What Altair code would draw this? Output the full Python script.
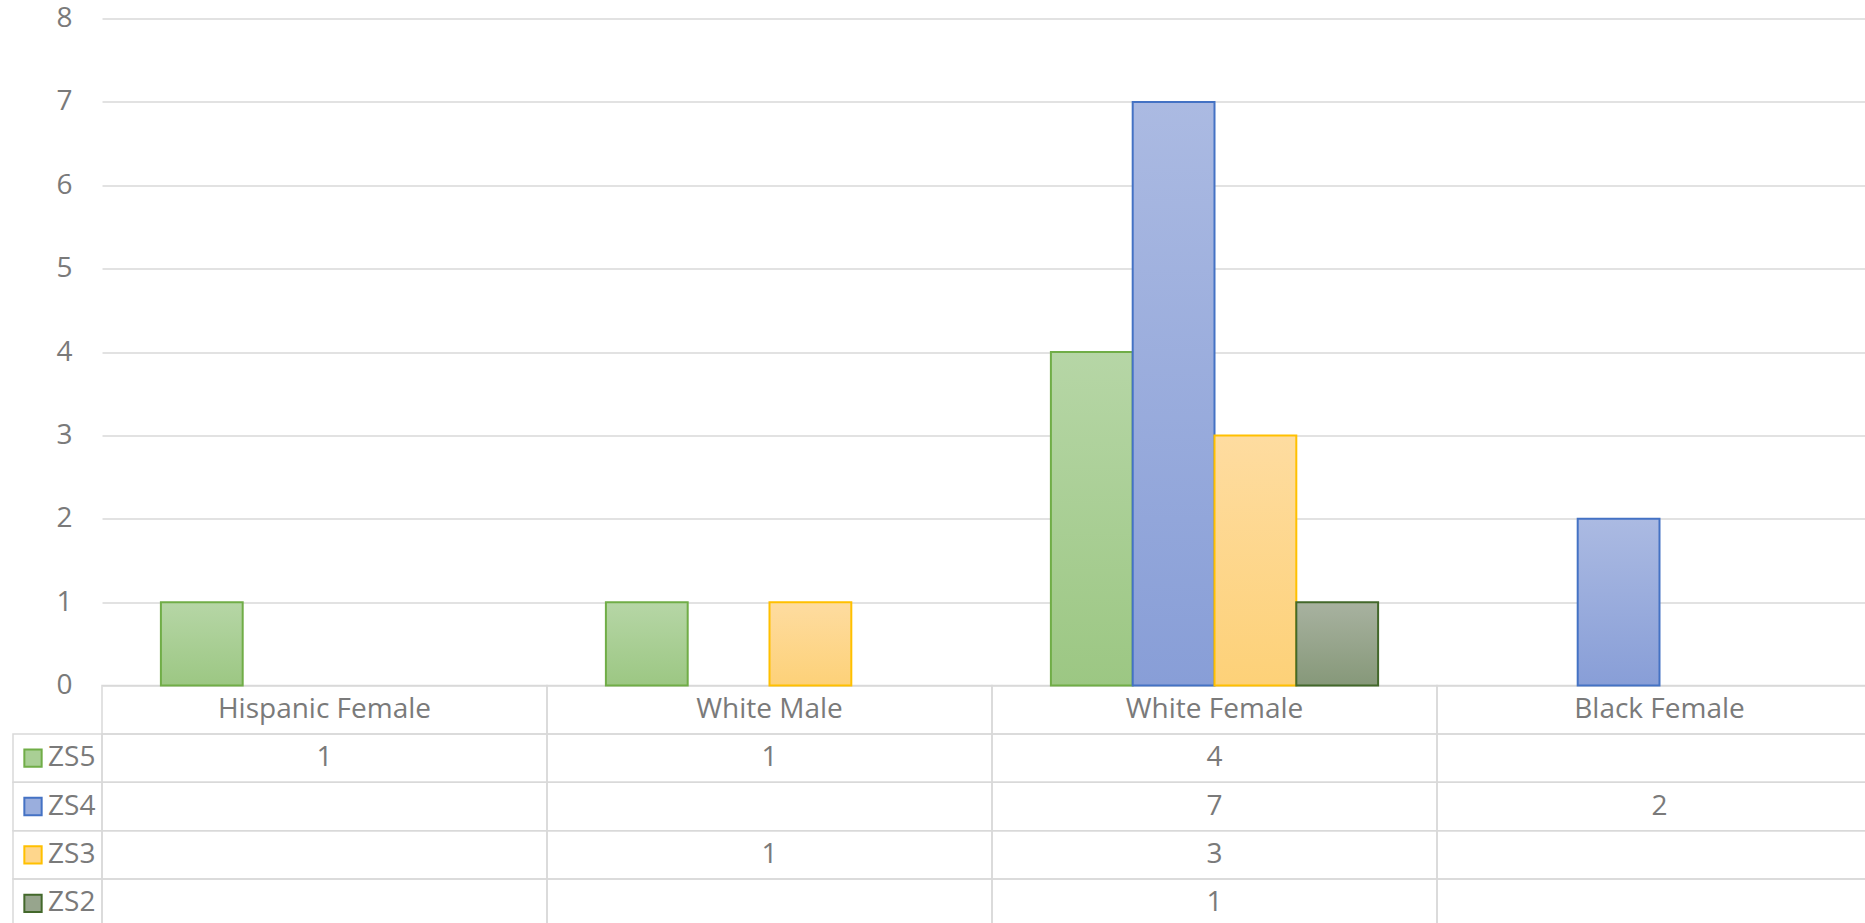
import altair as alt
import pandas as pd

# ---- data -------------------------------------------------------------
categories = ["Hispanic Female", "White Male", "White Female", "Black Female"]
series = ["ZS5", "ZS4", "ZS3", "ZS2"]
zs5 = [1, 1, 4, None]
zs4 = [None, None, 7, 2]
zs3 = [None, 1, 3, None]
zs2 = [None, None, 1, None]
y_ticks = [0, 1, 2, 3, 4, 5, 6, 7, 8]

values_by_series = {"ZS5": zs5, "ZS4": zs4, "ZS3": zs3, "ZS2": zs2}

# ---- styling ----------------------------------------------------------
FONT = "Open Sans"
FONT_SIZE = 28
TEXT_COLOR = "#7a7a7a"
LINE_COLOR = "#d9d9d9"

top_color = {"ZS5": "#b6d6a6", "ZS4": "#abbae2", "ZS3": "#fedca0", "ZS2": "#a8b2a0"}
bottom_color = {"ZS5": "#9cc783", "ZS4": "#889ed7", "ZS3": "#fdd178", "ZS2": "#869879"}
mid_color = {"ZS5": "#a9cf95", "ZS4": "#9aaedd", "ZS3": "#fed68c", "ZS2": "#97a58d"}
edge_color = {"ZS5": "#70ad47", "ZS4": "#4472c4", "ZS3": "#ffc000", "ZS2": "#43682b"}

PLOT_W = 1763          # visible plot width
BAND_SPAN = 1780       # four table columns (last one runs past the page edge)
PLOT_H = 667
ROW_H = 48.4

rows = ["header"] + series

# ---- tables built from the arrays ---------------------------------------
bars_df = pd.DataFrame(
    [
        {"category": c, "series": s, "row": s, "value": v}
        for s in series
        for c, v in zip(categories, values_by_series[s])
        if v is not None
    ]
)
cells_df = pd.DataFrame([{"category": c, "row": r} for c in categories for r in rows])
header_df = pd.DataFrame([{"category": c, "row": "header"} for c in categories])
legend_df = pd.DataFrame([{"series": s, "row": s} for s in series])

# ---- shared encodings ---------------------------------------------------
x_cat = alt.X(
    "category:N",
    sort=categories,
    scale=alt.Scale(domain=categories, range=[0, BAND_SPAN], paddingInner=0, paddingOuter=0),
    axis=None,
)
x_off = alt.XOffset(
    "series:N",
    sort=series,
    scale=alt.Scale(domain=series, paddingInner=0, paddingOuter=0.72),
)
y_val = alt.Y(
    "value:Q",
    scale=alt.Scale(domain=[0, 8], nice=False),
    axis=alt.Axis(
        values=y_ticks,
        title=None,
        grid=True,
        gridColor=LINE_COLOR,
        gridWidth=1.5,
        domain=False,
        ticks=False,
        labelFont=FONT,
        labelFontSize=FONT_SIZE,
        labelColor=TEXT_COLOR,
        labelPadding=30,
    ),
)
y_row = alt.Y(
    "row:N",
    sort=rows,
    scale=alt.Scale(domain=rows, range=[PLOT_H, PLOT_H + ROW_H * len(rows)], paddingInner=0, paddingOuter=0),
    axis=None,
)

# ---- clustered bars, one layer per series for its own gradient ----------
def bar_layer(s):
    grad = alt.LinearGradient(
        gradient="linear",
        x1=0, y1=0, x2=0, y2=1,
        stops=[
            alt.GradientStop(color=top_color[s], offset=0),
            alt.GradientStop(color=bottom_color[s], offset=1),
        ],
    )
    return (
        alt.Chart(bars_df)
        .transform_filter(alt.datum.series == s)
        .mark_bar(fill=grad, stroke=edge_color[s], strokeWidth=2)
        .encode(x=x_cat, xOffset=x_off, y=y_val)
    )

bars = alt.layer(*[bar_layer(s) for s in series])

# ---- data table under the plot -----------------------------------------
cells = alt.Chart(cells_df).mark_rect(
    fillOpacity=0, stroke=LINE_COLOR, strokeWidth=1.5
).encode(x=x_cat, y=y_row)

legend_cells = alt.Chart(legend_df).mark_rect(
    fillOpacity=0, stroke=LINE_COLOR, strokeWidth=1.5
).encode(x=alt.value(-89), x2=alt.value(0), y=y_row)

swatches = alt.Chart(legend_df).mark_square(size=300, filled=True, strokeWidth=2, opacity=1).encode(
    x=alt.value(-69),
    y=y_row,
    fill=alt.Fill("series:N", scale=alt.Scale(domain=series, range=[mid_color[s] for s in series]), legend=None),
    stroke=alt.Stroke("series:N", scale=alt.Scale(domain=series, range=[edge_color[s] for s in series]), legend=None),
)

text_style = dict(font=FONT, fontSize=FONT_SIZE, color=TEXT_COLOR, baseline="middle")

legend_labels = alt.Chart(legend_df).mark_text(align="left", **text_style).encode(
    x=alt.value(-54), y=y_row, text="series:N"
)

header_text = alt.Chart(header_df).mark_text(align="center", **text_style).encode(
    x=x_cat, y=y_row, text="category:N"
)

value_text = alt.Chart(bars_df).mark_text(align="center", **text_style).encode(
    x=x_cat, y=y_row, text="value:Q"
)

table = alt.layer(cells, legend_cells, swatches, legend_labels, header_text, value_text)

chart = (
    alt.layer(table, bars)
    .resolve_scale(y="independent")
    .properties(
        width=PLOT_W,
        height=PLOT_H,
        autosize=alt.AutoSizeParams(type="none"),
        padding={"left": 102, "top": 18.5, "right": 0, "bottom": 237.5},
        background="white",
    )
    .configure_view(strokeWidth=0)
)

chart.save("out.html", embed_options={"renderer": "svg", "actions": False})
